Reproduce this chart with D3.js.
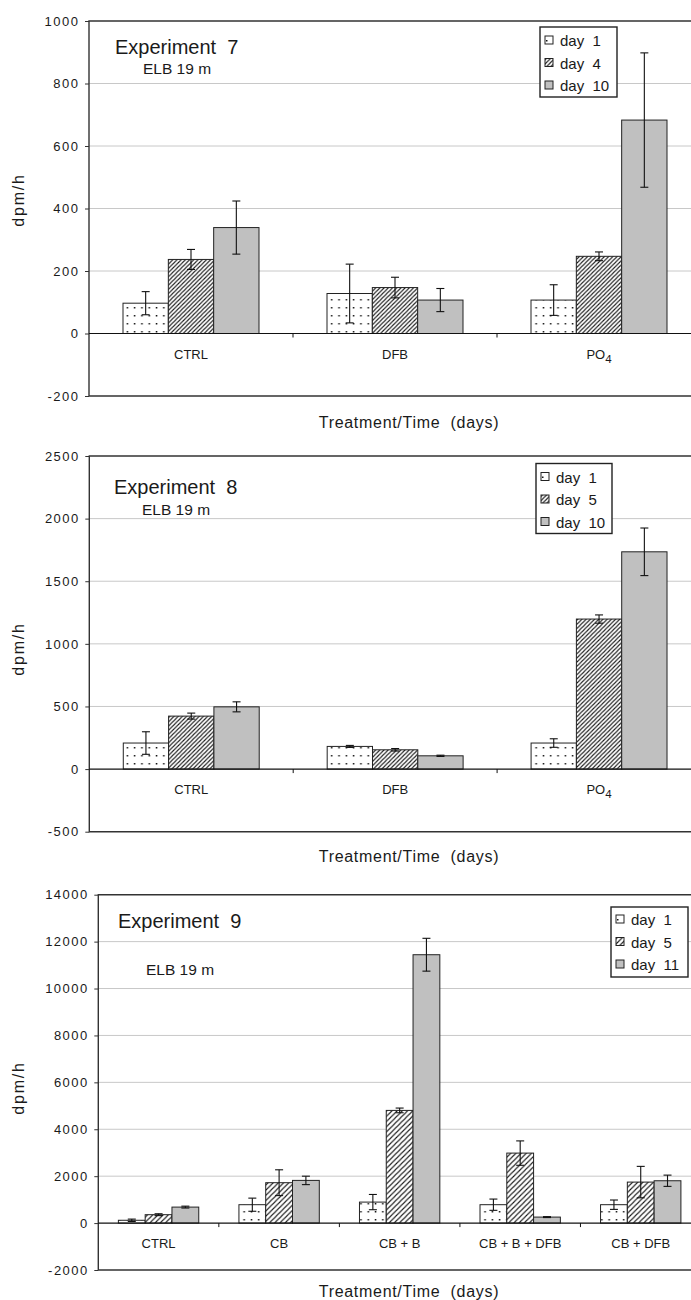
<!DOCTYPE html>
<html>
<head>
<meta charset="utf-8">
<script src="https://cdn.jsdelivr.net/npm/d3@7"></script>
<style>
  html, body { margin: 0; padding: 0; background: #fff; }
  svg { display: block; }
  text { font-family: "Liberation Sans", Arial, sans-serif; fill: #1a1a1a; white-space: pre; }
</style>
</head>
<body>
<svg id="chart" width="691" height="1300"></svg>
<script>
// ---- Experiment 7 ----
const exp7Categories = ["CTRL", "DFB", "PO4"];
const exp7Series = ["day  1", "day  4", "day  10"];
const exp7Day1 = [97, 128, 107];
const exp7Day4 = [237, 147, 247];
const exp7Day10 = [339, 107, 683];
const exp7Err1 = [37, 94, 49];
const exp7Err4 = [32, 33, 14];
const exp7Err10 = [85, 37, 215];
const exp7Ticks = [-200, 0, 200, 400, 600, 800, 1000];

// ---- Experiment 8 ----
const exp8Categories = ["CTRL", "DFB", "PO4"];
const exp8Series = ["day  1", "day  5", "day  10"];
const exp8Day1 = [208, 181, 208];
const exp8Day5 = [423, 154, 1198];
const exp8Day10 = [497, 106, 1735];
const exp8Err1 = [90, 8, 34];
const exp8Err5 = [24, 10, 33];
const exp8Err10 = [40, 5, 190];
const exp8Ticks = [-500, 0, 500, 1000, 1500, 2000, 2500];

// ---- Experiment 9 ----
const exp9Categories = ["CTRL", "CB", "CB + B", "CB + B + DFB", "CB + DFB"];
const exp9Series = ["day  1", "day  5", "day  11"];
const exp9Day1 = [120, 784, 895, 784, 784];
const exp9Day5 = [358, 1722, 4804, 2984, 1748];
const exp9Day11 = [682, 1820, 11441, 256, 1805];
const exp9Err1 = [50, 280, 325, 240, 200];
const exp9Err5 = [40, 550, 100, 520, 670];
const exp9Err11 = [40, 180, 700, 20, 240];
const exp9Ticks = [-2000, 0, 2000, 4000, 6000, 8000, 10000, 12000, 14000];

const yTitle = "dpm/h";
const xTitle = "Treatment/Time  (days)";
const subTitle = "ELB 19 m";

const svg = d3.select("#chart");
const defs = svg.append("defs");

// fill patterns: dotted, hatched (two densities), plain grey
const dots = defs.append("pattern").attr("id", "dots")
  .attr("patternUnits", "userSpaceOnUse").attr("width", 7.3).attr("height", 8);
dots.append("rect").attr("width", 7.3).attr("height", 8).attr("fill", "#fff");
dots.append("rect").attr("x", 2.5).attr("y", 3).attr("width", 1.5).attr("height", 1.5).attr("fill", "#111");

function hatch(id, s) {
  const p = defs.append("pattern").attr("id", id)
    .attr("patternUnits", "userSpaceOnUse").attr("width", s).attr("height", s);
  p.append("rect").attr("width", s).attr("height", s).attr("fill", "#fff");
  p.append("path")
    .attr("d", `M0,${s} L${s},0 M${-s / 2},${s / 2} L${s / 2},${-s / 2} M${s / 2},${s * 1.5} L${s * 1.5},${s / 2}`)
    .attr("stroke", "#1a1a1a").attr("stroke-width", 1.1);
}
hatch("hatchA", 4.2);
hatch("hatchB", 5.2);

const GREY = "#c0c0c0";

function drawPanel(cfg) {
  const g = svg.append("g");
  const x0 = d3.scaleBand().domain(cfg.categories).range([cfg.left, cfg.right]).padding(0);
  const x1 = d3.scaleBand().domain(cfg.series).range([0, x0.bandwidth()])
    .paddingInner(0).paddingOuter(0.75);
  const y = d3.scaleLinear().domain([cfg.ticks[0], cfg.ticks[cfg.ticks.length - 1]])
    .range([cfg.bottom, cfg.top]);

  // gridlines
  g.append("g").selectAll("line")
    .data(cfg.ticks.filter((t, i) => t !== 0 && i > 0 && i < cfg.ticks.length - 1))
    .join("line")
    .attr("x1", cfg.left).attr("x2", cfg.right)
    .attr("y1", d => y(d)).attr("y2", d => y(d))
    .attr("stroke", "#c8c8c8").attr("stroke-width", 1);

  // y axis (plain hyphen for negative values)
  const ax = g.append("g").attr("transform", `translate(${cfg.left},0)`)
    .call(d3.axisLeft(y).tickValues(cfg.ticks).tickSize(4).tickSizeOuter(0).tickPadding(7)
      .tickFormat(d => String(d)));
  ax.select(".domain").remove();
  ax.selectAll(".tick line").attr("stroke", "#333");
  ax.selectAll(".tick text")
    .style("font-family", "'Liberation Sans', Arial, sans-serif")
    .style("font-size", "13px").style("letter-spacing", "1.5px")
    .attr("fill", "#1a1a1a").attr("dx", "1.5");

  // frame
  g.append("path")
    .attr("d", `M${cfg.right},${cfg.top} H${cfg.left} V${cfg.bottom} H${cfg.right}`)
    .attr("fill", "none").attr("stroke", "#333").attr("stroke-width", 1.4);

  // bars
  const fills = ["url(#dots)", `url(#${cfg.hatch})`, GREY];
  cfg.series.forEach((s, si) => {
    const vals = cfg.values[si];
    const bars = g.append("g");
    cfg.categories.forEach((c, ci) => {
      const v = vals[ci];
      bars.append("rect")
        .attr("x", x0(c) + x1(s))
        .attr("y", y(Math.max(v, 0)))
        .attr("width", x1.bandwidth())
        .attr("height", Math.abs(y(v) - y(0)))
        .attr("fill", fills[si]).attr("stroke", "#222").attr("stroke-width", 1);
    });
  });

  // zero line and category boundary ticks
  g.append("line").attr("x1", cfg.left).attr("x2", cfg.right)
    .attr("y1", y(0)).attr("y2", y(0)).attr("stroke", "#111").attr("stroke-width", 1.2);
  g.append("g").selectAll("line").data(cfg.categories.slice(1)).join("line")
    .attr("x1", d => x0(d)).attr("x2", d => x0(d))
    .attr("y1", y(0)).attr("y2", y(0) + 4).attr("stroke", "#111");

  // error bars
  cfg.series.forEach((s, si) => {
    const vals = cfg.values[si], errs = cfg.errors[si];
    const eg = g.append("g").attr("stroke", "#111").attr("stroke-width", 1.1);
    cfg.categories.forEach((c, ci) => {
      const cx = x0(c) + x1(s) + x1.bandwidth() / 2;
      const hi = y(vals[ci] + errs[ci]), lo = y(vals[ci] - errs[ci]);
      eg.append("line").attr("x1", cx).attr("x2", cx).attr("y1", hi).attr("y2", lo);
      eg.append("line").attr("x1", cx - 4).attr("x2", cx + 4).attr("y1", hi).attr("y2", hi);
      eg.append("line").attr("x1", cx - 4).attr("x2", cx + 4).attr("y1", lo).attr("y2", lo);
    });
  });

  // category labels
  cfg.categories.forEach(c => {
    const t = g.append("text")
      .attr("x", x0(c) + x0.bandwidth() / 2)
      .attr("y", y(0) + 25)
      .attr("text-anchor", "middle")
      .style("font-size", "13px");
    if (c === "PO4") {
      t.append("tspan").text("PO");
      t.append("tspan").text("4").attr("dy", 4).style("font-size", "11.5px");
    } else {
      t.text(c);
    }
  });

  // titles
  g.append("text").attr("x", cfg.titleX).attr("y", cfg.titleY)
    .style("font-size", "20px").text(cfg.title);
  g.append("text").attr("x", cfg.subX).attr("y", cfg.subY)
    .style("font-size", "15.5px").text(subTitle);

  g.append("text")
    .attr("transform", `translate(24,${cfg.yLabelY}) rotate(-90)`)
    .attr("text-anchor", "middle")
    .style("font-size", "16px").style("letter-spacing", "1.8px")
    .text(yTitle);

  g.append("text").attr("x", 409).attr("y", cfg.xTitleY)
    .attr("text-anchor", "middle")
    .style("font-size", "16px").style("letter-spacing", "0.7px")
    .text(xTitle);

  // legend
  const L = cfg.legend;
  const lg = g.append("g");
  lg.append("rect").attr("x", L.x).attr("y", L.y).attr("width", L.w).attr("height", L.h)
    .attr("fill", "#fff").attr("stroke", "#222").attr("stroke-width", 1.4);
  cfg.series.forEach((s, si) => {
    const by = L.y + L.row0 + si * L.step;
    lg.append("rect").attr("x", L.x + 5).attr("y", by - 10).attr("width", 8).attr("height", 8)
      .attr("fill", si === 0 ? "#fff" : fills[si]).attr("stroke", "#222").attr("stroke-width", 1);
    if (si === 0) {
      lg.append("rect").attr("x", L.x + 6).attr("y", by - 6).attr("width", 1.5).attr("height", 1.5).attr("fill", "#111");
    }
    lg.append("text").attr("x", L.x + 20).attr("y", by)
      .style("font-size", "15px").text(s);
  });
}

drawPanel({
  categories: exp7Categories, series: exp7Series,
  values: [exp7Day1, exp7Day4, exp7Day10], errors: [exp7Err1, exp7Err4, exp7Err10],
  ticks: exp7Ticks, hatch: "hatchA",
  left: 89, right: 701, top: 21, bottom: 396,
  title: "Experiment  7", titleX: 115, titleY: 54, subX: 143, subY: 74,
  yLabelY: 200, xTitleY: 428,
  legend: { x: 540, y: 27, w: 77, h: 70, row0: 19, step: 22.5 }
});

drawPanel({
  categories: exp8Categories, series: exp8Series,
  values: [exp8Day1, exp8Day5, exp8Day10], errors: [exp8Err1, exp8Err5, exp8Err10],
  ticks: exp8Ticks, hatch: "hatchA",
  left: 89.3, right: 701, top: 456, bottom: 831.7,
  title: "Experiment  8", titleX: 114, titleY: 494, subX: 142, subY: 515,
  yLabelY: 649, xTitleY: 862,
  legend: { x: 536, y: 463.5, w: 76, h: 70, row0: 19, step: 22.5 }
});

drawPanel({
  categories: exp9Categories, series: exp9Series,
  values: [exp9Day1, exp9Day5, exp9Day11], errors: [exp9Err1, exp9Err5, exp9Err11],
  ticks: exp9Ticks, hatch: "hatchB",
  left: 98.3, right: 701, top: 894.7, bottom: 1270,
  title: "Experiment  9", titleX: 118, titleY: 928, subX: 146, subY: 975,
  yLabelY: 1088, xTitleY: 1297,
  legend: { x: 611, y: 907, w: 77, h: 70, row0: 18, step: 22.5 }
});
</script>
</body>
</html>
